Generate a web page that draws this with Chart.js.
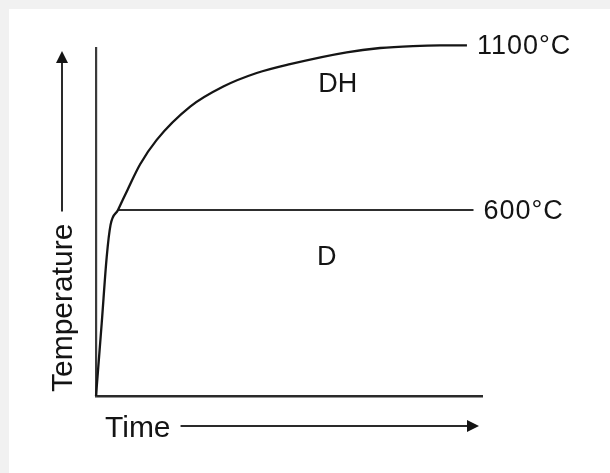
<!DOCTYPE html>
<html>
<head>
<meta charset="utf-8">
<script src="https://cdn.jsdelivr.net/npm/chart.js@4.4.1/dist/chart.umd.min.js"></script>
<style>
  html, body { margin: 0; padding: 0; background: #f1f1f1; }
  #wrap { position: absolute; left: 0; top: 0; width: 610px; height: 473px; }
</style>
</head>
<body>
<div id="wrap"><canvas id="c" width="610" height="473"></canvas></div>
<script>
// Heating curve (time in arbitrary units, temperature in °C)
const curveTime = [0, 1.48, 2.77, 3.76, 5.70, 8.16, 11.4, 15.73, 24.4, 32.98, 41.63, 50.26, 64.95, 73.6, 82.1, 89.1, 96.1];
const curveTemp = [35, 256, 457, 554, 600, 661, 738, 813, 914, 975, 1016, 1043, 1079, 1092, 1098, 1100, 1100];

// 600 °C hold line
const holdTime = [5.7, 97.8];
const holdTemp = [600, 600];

// End labels
const endLabels = ['1100°C', '600°C'];
const endLabelTemp = [1100, 600];

// Region labels
const regionLabels = ['DH', 'D'];
const regionTime = [62.6, 59.8];
const regionTemp = [980, 456];

// Axis titles
const xTitle = 'Time';
const yTitle = 'Temperature';

const axisRange = { tMin: 0, tMax: 100, TMin: 35, TMax: 1092 };

const curveData = curveTime.map((t, i) => ({ x: t, y: curveTemp[i] }));
const holdData = holdTime.map((t, i) => ({ x: t, y: holdTemp[i] }));

const FONT = '"Liberation Sans", Arial, Helvetica, sans-serif';
const INK = '#141414';

const decor = {
  id: 'decor',
  beforeDraw(chart) {
    const ctx = chart.ctx;
    ctx.save();
    ctx.fillStyle = '#f1f1f1';
    ctx.fillRect(0, 0, chart.width, chart.height);
    ctx.fillStyle = '#ffffff';
    ctx.fillRect(9, 9, chart.width - 9, chart.height - 9);
    ctx.restore();
  },
  afterDraw(chart) {
    const ctx = chart.ctx;
    const xs = chart.scales.x, ys = chart.scales.y;
    const area = chart.chartArea;
    ctx.save();
    ctx.fillStyle = INK;
    ctx.strokeStyle = '#2a2a2a';
    ctx.lineWidth = 2;

    // End labels, placed right of the line ends
    const ends = [curveData[curveData.length - 1], holdData[holdData.length - 1]];
    ctx.font = '27px ' + FONT;
    ctx.letterSpacing = '1px';
    ctx.textAlign = 'left';
    ctx.textBaseline = 'middle';
    endLabels.forEach((lab, i) => {
      const px = xs.getPixelForValue(ends[i].x) + 10;
      const py = ys.getPixelForValue(endLabelTemp[i]) + 1.5;
      ctx.fillText(lab, px, py);
    });
    ctx.letterSpacing = '0px';

    // Region labels
    ctx.textAlign = 'center';
    regionLabels.forEach((lab, i) => {
      ctx.fillText(lab, xs.getPixelForValue(regionTime[i]), ys.getPixelForValue(regionTemp[i]));
    });

    // X title with arrow
    ctx.font = '30px ' + FONT;
    ctx.textAlign = 'left';
    ctx.textBaseline = 'alphabetic';
    const tx = area.left + 9, ty = area.bottom + 41;
    ctx.fillText(xTitle, tx, ty);
    const ay = ty - 11;
    const xArrowStart = tx + ctx.measureText(xTitle).width + 10;
    const xArrowTip = area.right - 3;
    ctx.beginPath();
    ctx.moveTo(xArrowStart, ay);
    ctx.lineTo(xArrowTip - 10, ay);
    ctx.stroke();
    ctx.beginPath();
    ctx.moveTo(xArrowTip, ay);
    ctx.lineTo(xArrowTip - 12, ay - 6);
    ctx.lineTo(xArrowTip - 12, ay + 6);
    ctx.closePath();
    ctx.fill();

    // Y title with arrow
    const bx = area.left - 24, by = area.bottom - 4;
    ctx.save();
    ctx.translate(bx, by);
    ctx.rotate(-Math.PI / 2);
    ctx.fillText(yTitle, 0, 0);
    const yw = ctx.measureText(yTitle).width;
    ctx.restore();
    const ax = bx - 10;
    const yArrowStart = by - yw - 12;
    const yArrowTip = area.top + 3;
    ctx.beginPath();
    ctx.moveTo(ax, yArrowStart);
    ctx.lineTo(ax, yArrowTip + 10);
    ctx.stroke();
    ctx.beginPath();
    ctx.moveTo(ax, yArrowTip);
    ctx.lineTo(ax - 6, yArrowTip + 12);
    ctx.lineTo(ax + 6, yArrowTip + 12);
    ctx.closePath();
    ctx.fill();

    ctx.restore();
  }
};

new Chart(document.getElementById('c'), {
  type: 'scatter',
  data: {
    datasets: [
      {
        data: curveData,
        showLine: true,
        borderColor: '#151515',
        borderWidth: 2.3,
        pointRadius: 0,
        cubicInterpolationMode: 'monotone',
        clip: false
      },
      {
        data: holdData,
        showLine: true,
        borderColor: '#2e2e2e',
        borderWidth: 2,
        pointRadius: 0,
        clip: false
      }
    ]
  },
  options: {
    responsive: false,
    animation: false,
    events: [],
    layout: { padding: { left: 96, top: 48, right: 128, bottom: 77 } },
    plugins: { legend: { display: false }, tooltip: { enabled: false } },
    scales: {
      x: {
        type: 'linear',
        min: axisRange.tMin, max: axisRange.tMax,
        grid: { display: false, drawTicks: false },
        ticks: { display: false },
        border: { display: true, color: '#2a2a2a', width: 2.5 }
      },
      y: {
        type: 'linear',
        min: axisRange.TMin, max: axisRange.TMax,
        grid: { display: false, drawTicks: false },
        ticks: { display: false },
        border: { display: true, color: '#3a3a3a', width: 2.2 }
      }
    }
  },
  plugins: [decor]
});
</script>
</body>
</html>
